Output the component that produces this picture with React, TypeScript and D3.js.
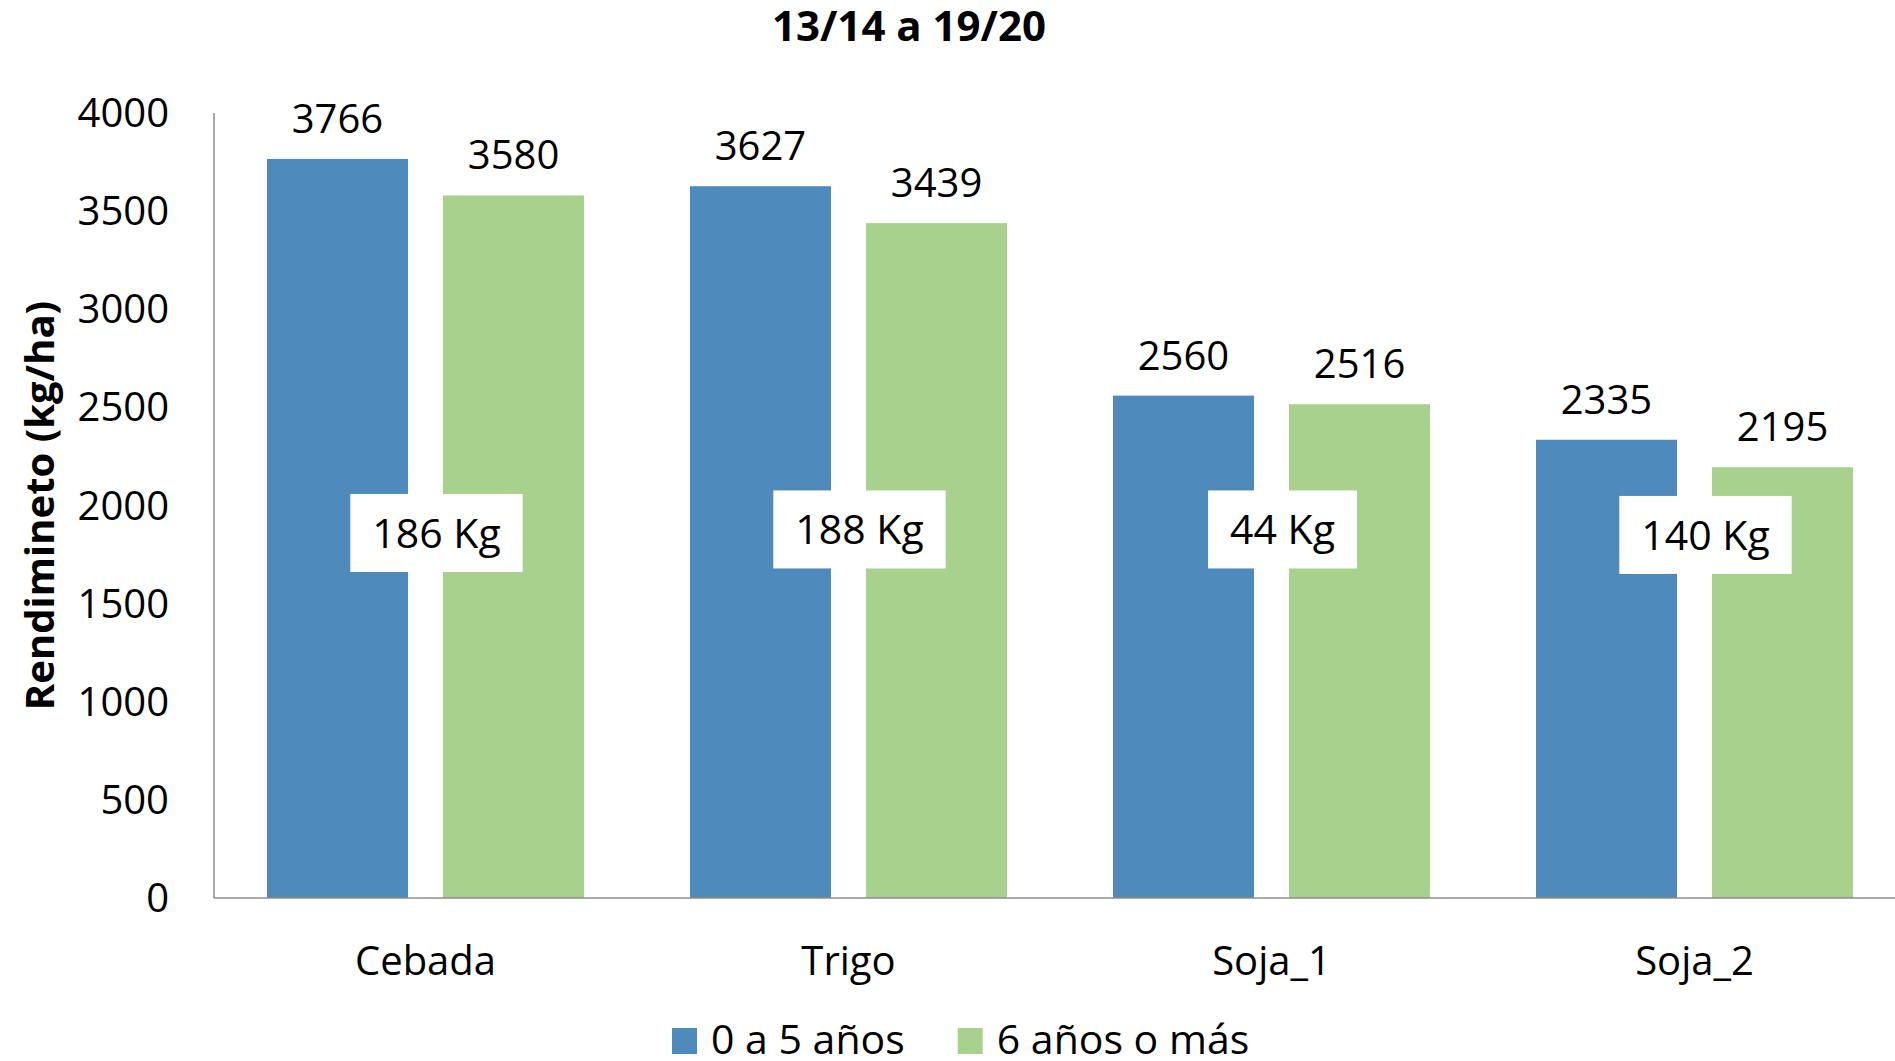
import React from 'react'
import * as d3 from 'd3'

const categories = ['Cebada', 'Trigo', 'Soja_1', 'Soja_2']
const seriesNames = ['0 a 5 años', '6 años o más']
const young = [3766, 3627, 2560, 2335]
const old = [3580, 3439, 2516, 2195]
// height (in kg/ha) where the difference boxes sit
const diffLevel = [1860, 1878, 1878, 1850]
const yTicks = [0, 500, 1000, 1500, 2000, 2500, 3000, 3500, 4000]
const colors = ['#4f8abd', '#a9d18e']

const width = 1895
const height = 1061
const font = "'Open Sans', 'Noto Sans', sans-serif"

const App: React.FunctionComponent = () => {
  const svgRef = React.useRef<SVGSVGElement>(null)

  const margin = { top: 113, left: 214, bottom: 163, right: -11 }

  React.useEffect(() => {
    const svg = d3.select(svgRef.current)
    svg.selectAll('*').remove()

    const x0 = d3
      .scaleBand()
      .domain(categories)
      .range([margin.left, width - margin.right])
      .padding(0)

    const x1 = d3
      .scaleBand()
      .domain(seriesNames)
      .range([0, x0.bandwidth()])
      .paddingInner(0.199)
      .paddingOuter(0.301)

    const y = d3
      .scaleLinear()
      .domain([0, 4000])
      .range([height - margin.bottom, margin.top])

    const rows = categories.map((c, i) => ({
      cat: c,
      values: [young[i], old[i]],
      diff: young[i] - old[i],
      level: diffLevel[i],
    }))

    // bars
    const groups = svg
      .append('g')
      .selectAll('g')
      .data(rows)
      .join('g')
      .attr('transform', d => `translate(${x0(d.cat)},0)`)

    groups
      .selectAll('rect')
      .data(d => d.values.map((v, j) => ({ v, s: seriesNames[j], j })))
      .join('rect')
      .attr('x', d => x1(d.s) || 0)
      .attr('y', d => y(d.v))
      .attr('width', x1.bandwidth())
      .attr('height', d => y(0) - y(d.v))
      .attr('fill', d => colors[d.j])

    groups
      .selectAll('text.val')
      .data(d => d.values.map((v, j) => ({ v, s: seriesNames[j] })))
      .join('text')
      .attr('class', 'val')
      .attr('x', d => (x1(d.s) || 0) + x1.bandwidth() / 2)
      .attr('y', d => y(d.v) - 26)
      .attr('text-anchor', 'middle')
      .style('font-family', font)
      .style('font-size', '40px')
      .text(d => d.v)

    // axes lines
    svg
      .append('line')
      .attr('x1', margin.left)
      .attr('x2', margin.left)
      .attr('y1', y(4000))
      .attr('y2', y(0))
      .attr('stroke', '#8c8c8c')
      .attr('stroke-width', 1.5)
    svg
      .append('line')
      .attr('x1', margin.left)
      .attr('x2', width)
      .attr('y1', y(0))
      .attr('y2', y(0))
      .attr('stroke', '#8c8c8c')
      .attr('stroke-width', 1.5)

    // y tick labels
    svg
      .append('g')
      .selectAll('text')
      .data(yTicks)
      .join('text')
      .attr('x', 169)
      .attr('y', d => y(d))
      .attr('dy', '0.35em')
      .attr('text-anchor', 'end')
      .style('font-family', font)
      .style('font-size', '40px')
      .text(d => d)

    // category labels
    svg
      .append('g')
      .selectAll('text')
      .data(categories)
      .join('text')
      .attr('x', d => (x0(d) || 0) + x0.bandwidth() / 2)
      .attr('y', 975)
      .attr('text-anchor', 'middle')
      .style('font-family', font)
      .style('font-size', '40px')
      .text(d => d)

    // difference boxes
    const diffG = svg
      .append('g')
      .selectAll('g')
      .data(rows)
      .join('g')
      .attr(
        'transform',
        d => `translate(${(x0(d.cat) || 0) + x0.bandwidth() / 2 + 11},${y(d.level)})`
      )
    const rectSel = diffG.append('rect').attr('fill', '#fff')
    const diffText = diffG
      .append('text')
      .attr('text-anchor', 'middle')
      .attr('y', 15)
      .style('font-family', font)
      .style('font-size', '41px')
      .text(d => `${d.diff} Kg`)
    rectSel.each(function (_, i) {
      const node = diffText.nodes()[i] as SVGTextElement
      const w = node.getComputedTextLength() + 44
      d3.select(this)
        .attr('x', -w / 2)
        .attr('y', -39)
        .attr('width', w)
        .attr('height', 78)
    })

    // title
    svg
      .append('text')
      .attr('x', 909)
      .attr('y', 41)
      .attr('text-anchor', 'middle')
      .style('font-family', font)
      .style('font-size', '42px')
      .style('font-weight', 'bold')
      .text('13/14 a 19/20')

    // y axis title
    svg
      .append('text')
      .attr('transform', `translate(54,${(y(0) + y(4000)) / 2}) rotate(-90)`)
      .attr('text-anchor', 'middle')
      .style('font-family', font)
      .style('font-size', '40px')
      .style('font-weight', 'bold')
      .text('Rendimineto (kg/ha)')

    // legend
    const legend = svg.append('g')
    let lx = 672
    seriesNames.forEach((name, i) => {
      legend
        .append('rect')
        .attr('x', lx)
        .attr('y', 1028)
        .attr('width', 25)
        .attr('height', 26)
        .attr('fill', colors[i])
      const t = legend
        .append('text')
        .attr('x', lx + 39)
        .attr('y', 1054)
        .style('font-family', font)
        .style('font-size', '41px')
        .text(name)
      const tw = (t.node() as SVGTextElement).getComputedTextLength()
      lx = lx + 39 + tw + 53
    })
  }, [])

  return (
    <svg
      ref={svgRef}
      width={width}
      height={height}
      style={{ position: 'absolute', left: 0, top: 0, background: '#fff' }}
    />
  )
}

export default App
